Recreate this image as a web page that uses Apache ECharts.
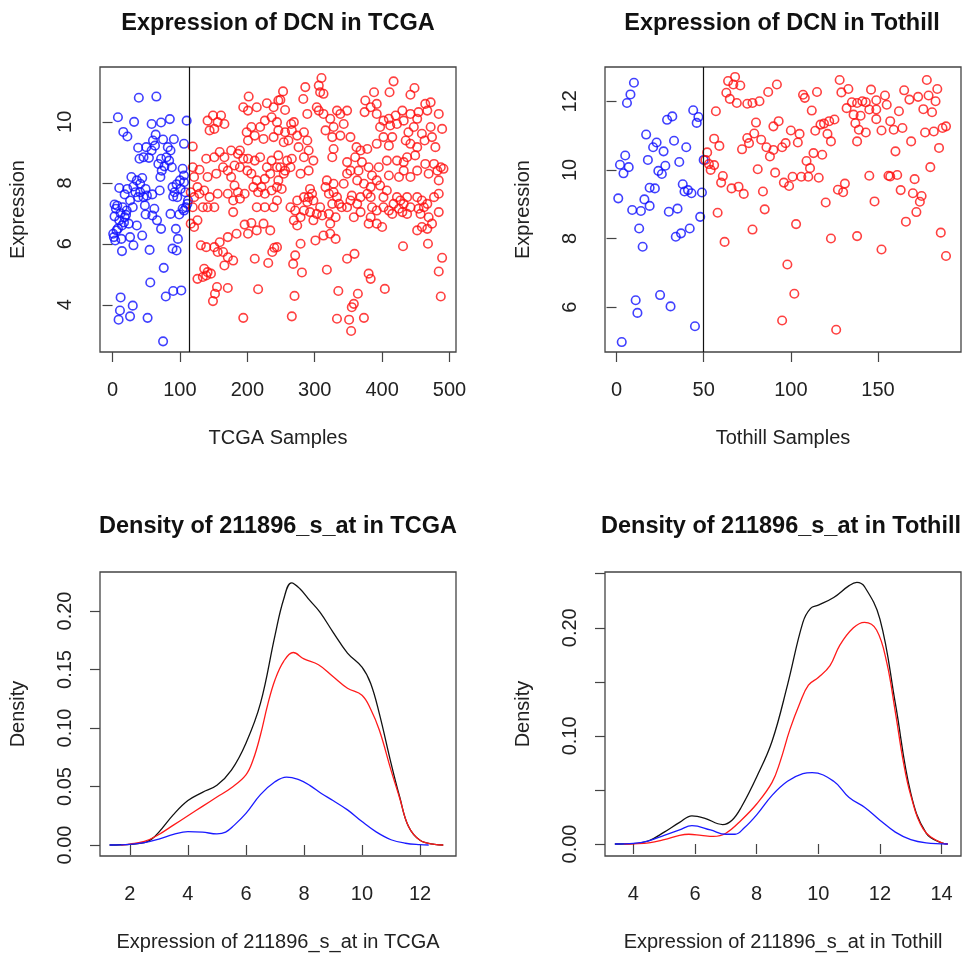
<!DOCTYPE html>
<html>
<head>
<meta charset="utf-8">
<script src="https://cdn.jsdelivr.net/npm/echarts@6/dist/echarts.min.js"></script>
<style>html,body{margin:0;padding:0;background:#fff}#main{width:968px;height:957px}</style>
</head>
<body>
<div id="main"></div>
<script>
// sample index where the blue group ends
var tcgaSplit = 114;
var tothillSplit = 50;

// [sample, expression]
var tcgaBlue = [[39,10.79],[65,10.83],[8,10.15],[32,10.0],[58,9.93],[72,9.98],[85,10.09],[110,10.04],[16,9.67],[22,9.52],[64,9.58],[60,9.39],[75,9.42],[91,9.43],[106,9.28],[38,9.15],[50,9.17],[46,8.84],[40,8.79],[58,9.06],[63,9.22],[54,8.82],[72,8.79],[84,8.73],[86,9.06],[82,9.17],[68,8.62],[77,8.54],[73,8.40],[80,8.84],[88,8.51],[71,8.19],[104,8.46],[106,8.24],[100,8.08],[28,8.19],[36,8.08],[44,8.16],[41,7.97],[10,7.83],[18,7.62],[22,7.80],[31,7.88],[34,7.69],[41,7.69],[49,7.80],[51,7.58],[46,7.53],[38,7.53],[59,7.62],[70,7.75],[26,7.42],[89,7.86],[92,7.69],[95,7.95],[101,7.80],[106,8.02],[96,7.53],[90,7.55],[3,7.29],[5,7.15],[15,7.20],[21,7.09],[30,7.20],[48,7.26],[62,7.15],[18,6.87],[10,6.77],[14,6.60],[24,6.66],[6,6.44],[1,6.33],[2,6.22],[4,6.11],[13,6.16],[26,6.22],[36,6.60],[44,6.27],[31,5.95],[14,5.76],[55,5.80],[49,6.96],[59,6.93],[66,6.77],[72,6.49],[86,6.98],[99,6.96],[104,7.15],[109,7.20],[111,7.31],[94,6.49],[97,6.16],[89,5.84],[95,5.78],[76,5.21],[56,4.73],[79,4.27],[90,4.45],[102,4.47],[12,4.24],[30,3.97],[11,3.81],[26,3.62],[9,3.51],[52,3.57],[75,2.80],[108,7.69],[112,7.42],[106,7.09],[7,7.25],[3,6.9],[8,6.5],[17,6.7],[20,6.95],[12,7.0]];

var tcgaRed = [[202,10.83],[194,10.48],[201,10.37],[214,10.48],[229,10.61],[239,10.48],[246,10.70],[141,10.04],[149,10.21],[161,10.21],[166,9.93],[156,9.99],[144,9.72],[151,9.77],[199,9.66],[206,9.83],[219,9.83],[226,10.04],[236,10.15],[244,9.99],[211,9.55],[224,9.44],[239,9.50],[246,9.72],[201,9.39],[119,9.19],[139,8.79],[151,8.84],[159,9.01],[166,8.84],[176,9.06],[186,8.95],[194,8.79],[201,8.79],[189,9.06],[211,8.73],[219,8.84],[229,8.51],[236,8.73],[246,8.90],[119,8.51],[129,8.43],[121,8.19],[126,7.86],[141,8.19],[154,8.30],[164,8.51],[171,8.40],[176,8.19],[181,8.57],[189,8.51],[200,8.40],[206,8.30],[214,8.08],[226,8.13],[234,8.30],[244,8.51],[116,7.69],[121,7.53],[119,7.20],[129,7.64],[136,7.75],[144,7.53],[134,7.20],[141,7.20],[151,7.20],[156,7.64],[171,7.64],[181,7.91],[186,7.69],[179,7.42],[189,7.48],[196,7.64],[209,7.86],[216,7.69],[221,7.86],[226,7.64],[236,7.75],[244,7.86],[214,7.20],[226,7.20],[239,7.20],[179,7.04],[116,6.66],[121,6.55],[126,6.77],[196,6.63],[206,6.68],[214,6.44],[224,6.66],[234,6.44],[201,6.33],[184,6.33],[171,6.22],[131,5.95],[139,5.89],[151,5.89],[159,6.05],[164,5.73],[156,5.73],[171,5.56],[179,5.45],[211,5.51],[231,5.37],[240,5.87],[244,5.89],[136,5.18],[141,5.07],[134,4.91],[126,4.85],[146,5.02],[139,4.96],[166,5.29],[155,4.58],[171,4.55],[152,4.36],[149,4.12],[216,4.51],[194,3.57],
[310,11.44],[417,11.33],[411,10.97],[448,11.11],[442,10.89],[253,11.0],[249,10.72],[286,11.14],[283,10.75],[306,11.19],[308,10.97],[313,10.92],[375,10.70],[388,10.97],[383,10.48],[392,10.59],[256,10.39],[265,9.93],[269,9.99],[266,9.72],[303,10.48],[306,10.37],[313,10.26],[289,10.26],[333,10.37],[338,10.26],[348,10.37],[323,10.10],[328,9.83],[343,9.93],[338,9.55],[353,9.50],[326,9.50],[316,9.72],[328,9.11],[374,10.32],[392,10.26],[402,10.04],[397,9.83],[410,10.10],[420,10.21],[430,10.37],[432,10.04],[422,9.93],[412,9.88],[402,9.50],[415,9.50],[410,9.22],[392,9.28],[442,10.26],[454,10.32],[467,10.37],[472,10.64],[464,10.59],[484,10.26],[489,9.77],[472,9.83],[474,9.50],[479,9.17],[452,10.10],[447,9.83],[459,9.61],[439,9.66],[435,9.39],[452,9.17],[463,9.39],[442,9.28],[256,9.66],[274,9.55],[284,9.66],[289,9.39],[276,9.17],[291,9.06],[261,9.39],[254,9.33],[259,8.73],[266,8.79],[284,8.84],[298,8.73],[326,8.84],[362,9.17],[368,9.06],[378,9.11],[360,8.84],[370,8.68],[380,8.51],[365,8.40],[348,8.68],[353,8.40],[348,8.30],[385,8.24],[395,8.51],[407,8.73],[422,8.73],[432,8.68],[437,8.84],[449,8.90],[452,8.40],[464,8.62],[477,8.62],[487,8.51],[491,8.46],[482,8.40],[469,8.30],[484,8.08],[432,8.40],[442,8.19],[425,8.19],[410,8.24],[249,8.51],[256,8.40],[264,8.51],[254,8.30],[246,8.08],[251,7.80],[244,7.42],[279,8.30],[291,8.40],[318,8.08],[328,7.97],[343,7.97],[363,8.08],[373,7.97],[383,7.86],[392,8.08],[397,7.91],[407,7.75],[402,7.53],[378,7.64],[368,7.53],[383,7.53],[355,7.58],[353,7.42],[363,7.31],[336,7.31],[340,7.20],[326,7.31],[321,7.64],[316,7.86],[328,7.69],[333,7.53],[293,7.80],[296,7.64],[291,7.53],[289,7.37],[298,7.42],[284,7.53],[274,7.42],[264,7.20],[271,7.09],[284,7.09],[279,6.87],[293,7.04],[303,6.98],[311,6.93],[321,6.98],[331,6.87],[298,6.77],[308,7.20],[323,6.66],[274,6.60],[269,6.77],[422,7.53],[427,7.42],[432,7.31],[417,7.31],[425,7.15],[430,7.04],[437,7.53],[442,7.20],[452,7.53],[459,7.42],[462,7.20],[454,7.15],[467,7.31],[477,7.53],[484,7.64],[484,7.04],[469,6.87],[457,6.98],[474,6.66],[459,6.55],[452,6.44],[467,6.49],[437,6.98],[415,6.98],[410,7.09],[402,7.20],[392,7.09],[383,6.87],[380,6.66],[368,7.04],[358,6.87],[400,6.55],[392,6.66],[385,7.20],[348,7.20],[237,5.73],[301,6.11],[313,6.27],[323,6.33],[331,6.16],[279,6.0],[271,5.62],[268,5.34],[281,5.06],[318,5.15],[348,5.51],[359,5.67],[380,5.02],[383,4.85],[404,4.52],[431,5.92],[468,6.0],[489,5.54],[484,5.09],[487,4.27],[335,4.45],[270,4.29],[364,4.36],[358,4.03],[355,3.92],[266,3.62],[333,3.54],[351,3.51],[373,3.57],[354,3.14]];

var tothillBlue = [[10,12.54],[8,12.2],[6,11.95],[44,11.74],[47,11.54],[46,11.37],[29,11.46],[32,11.56],[17,11.03],[33,10.85],[40,10.66],[23,10.8],[21,10.66],[27,10.54],[5,10.42],[2,10.15],[7,10.08],[4,9.9],[18,10.29],[36,10.23],[28,10.12],[24,9.97],[26,9.88],[50,10.29],[1,9.17],[9,8.83],[14,8.8],[16,9.14],[19,8.95],[19,9.48],[22,9.46],[38,9.58],[39,9.37],[41,9.41],[43,9.32],[49,9.34],[30,8.78],[35,8.87],[48,8.63],[13,8.29],[15,7.76],[34,8.05],[37,8.15],[42,8.29],[11,6.2],[12,5.83],[25,6.35],[31,6.02],[45,5.44],[3,4.98]];

var tothillRed = [[64,12.59],[68,12.71],[67,12.49],[71,12.46],[63,12.25],[65,12.07],[69,11.95],[75,11.93],[78,11.95],[82,12.0],[87,12.27],[57,11.71],[80,11.38],[75,10.93],[79,11.06],[83,10.88],[86,10.66],[88,10.39],[72,10.60],[76,10.78],[56,10.91],[59,10.70],[52,10.51],[51,10.29],[53,10.17],[56,10.14],[54,10.0],[81,10.02],[61,9.82],[60,9.63],[66,9.46],[70,9.51],[73,9.30],[84,9.37],[85,8.85],[58,8.75],[78,8.26],[62,7.90],
[92,12.49],[93,11.42],[90,11.27],[100,11.15],[105,11.05],[104,10.80],[97,10.78],[95,10.66],[90,10.58],[91,9.92],[96,9.63],[99,9.53],[101,9.80],[106,9.80],[110,9.80],[116,9.77],[109,10.26],[111,10.05],[113,10.49],[118,10.44],[107,12.19],[108,12.10],[115,12.27],[112,11.73],[114,11.14],[117,11.32],[119,11.35],[122,11.42],[125,11.47],[121,11.05],[123,10.83],[128,12.62],[129,12.26],[133,12.36],[132,11.80],[135,11.97],[138,11.95],[141,12.0],[143,11.97],[145,11.76],[136,11.61],[140,11.58],[137,11.36],[139,11.17],[143,11.09],[138,10.83],[146,12.34],[149,12.03],[154,12.17],[155,11.90],[149,11.76],[149,11.48],[152,11.15],[157,11.42],[159,11.17],[164,11.22],[162,11.71],[165,12.32],[168,12.05],[173,12.13],[176,11.77],[178,12.62],[179,12.17],[184,12.36],[183,12.0],[181,11.68],[177,11.09],[182,11.12],[187,11.22],[189,11.27],[169,10.83],[185,10.64],[160,10.54],[180,10.08],[145,9.83],[156,9.83],[157,9.81],[161,9.85],[171,9.73],[163,9.41],[170,9.32],[175,9.24],[174,9.07],[172,8.77],[166,8.49],[148,9.08],[131,9.60],[130,9.35],[127,9.42],[120,9.05],[103,8.42],[123,8.0],[138,8.07],[152,7.68],[186,8.17],[189,7.49],[98,7.24],[102,6.39],[95,5.61],[126,5.34]];

// [expression, density]
var tcgaDensAll = [[1.3,0],[1.7,0.0002],[2,0.0005],[2.5,0.002],[2.75,0.005],[3,0.011],[3.5,0.026],[4,0.038],[4.5,0.045],[5,0.051],[5.5,0.064],[6,0.087],[6.5,0.121],[7,0.179],[7.3,0.21],[7.57,0.224],[7.86,0.219],[8.2,0.209],[8.55,0.199],[9,0.182],[9.5,0.164],[10,0.152],[10.3,0.138],[10.6,0.112],[11,0.07],[11.3,0.041],[11.6,0.016],[12,0.004],[12.5,0.0005],[12.8,0]];
var tcgaDensRed = [[1.7,0],[2,0.0008],[2.5,0.003],[3,0.009],[3.5,0.017],[4,0.025],[4.5,0.033],[5,0.041],[5.5,0.049],[6,0.060],[6.25,0.073],[6.5,0.094],[6.75,0.12],[7,0.141],[7.3,0.157],[7.63,0.1645],[8,0.159],[8.5,0.154],[9,0.144],[9.5,0.134],[10,0.128],[10.3,0.116],[10.6,0.098],[11,0.064],[11.3,0.040],[11.6,0.016],[12,0.004],[12.5,0.0005],[12.8,0]];
var tcgaDensBlue = [[1.3,0],[2,0.0005],[2.5,0.002],[3,0.005],[3.5,0.009],[4,0.0115],[4.5,0.011],[5,0.0095],[5.3,0.011],[5.6,0.017],[6,0.027],[6.5,0.043],[7,0.054],[7.4,0.058],[7.8,0.056],[8.2,0.051],[8.6,0.044],[9,0.038],[9.5,0.030],[10,0.020],[10.5,0.011],[11,0.0045],[11.5,0.0015],[12,0.0003],[12.3,0]];

var tothDensAll = [[3.4,0],[4,0.0004],[4.5,0.003],[5,0.011],[5.5,0.020],[5.9,0.026],[6.3,0.024],[6.9,0.018],[7.2,0.022],[7.5,0.034],[8,0.062],[8.5,0.095],[9,0.147],[9.5,0.205],[9.75,0.218],[10,0.221],[10.5,0.228],[11,0.239],[11.25,0.242],[11.5,0.238],[12,0.208],[12.5,0.130],[13,0.047],[13.5,0.010],[14,0.001],[14.2,0]];
var tothDensRed = [[3.7,0],[4,0.0002],[4.5,0.001],[5,0.004],[5.5,0.008],[5.8,0.009],[6.2,0.008],[6.6,0.007],[7,0.010],[7.5,0.022],[8,0.037],[8.5,0.057],[8.76,0.076],[9.08,0.106],[9.41,0.131],[9.68,0.147],[10,0.154],[10.38,0.165],[10.7,0.184],[11.14,0.2],[11.5,0.205],[11.89,0.198],[12.22,0.168],[12.5,0.122],[12.76,0.076],[13,0.045],[13.4,0.014],[14,0.001],[14.2,0]];
var tothDensBlue = [[3.4,0],[4,0.0005],[4.5,0.003],[5,0.008],[5.5,0.013],[5.9,0.017],[6.5,0.013],[7,0.009],[7.3,0.009],[7.6,0.015],[8,0.027],[8.5,0.045],[9,0.058],[9.5,0.065],[9.8,0.066],[10.5,0.058],[11,0.043],[11.5,0.034],[12,0.022],[12.5,0.011],[13,0.004],[13.5,0.001],[14.2,0]];

// tick positions
var tcgaXTicks = [0, 100, 200, 300, 400, 500];
var tcgaYTicks = [4, 6, 8, 10];
var tothXTicks = [0, 50, 100, 150];
var tothYTicks = [6, 8, 10, 12];
var densTcgaXTicks = [2, 4, 6, 8, 10, 12];
var densTcgaYTicks = [0, 0.05, 0.10, 0.15, 0.20];
var densTothXTicks = [4, 6, 8, 10, 12, 14];
var densTothYTicks = [0, 0.05, 0.10, 0.15, 0.20, 0.25];
var densTothYLabels = [0, 0.10, 0.20];

var FONT = '"Liberation Sans", Arial, Helvetica, sans-serif';
var TXT = '#222';

function axis(grid, min, max, ticks, labels, name, isY, fmt) {
    return {
        type: 'value', gridIndex: grid, min: min, max: max,
        name: name, nameLocation: 'middle', nameGap: isY ? 72 : 76,
        nameTextStyle: {fontFamily: FONT, fontSize: 20, color: TXT},
        axisLine: {show: false},
        axisTick: {show: true, length: 10, customValues: ticks, lineStyle: {color: '#444', width: 1.2}},
        axisLabel: {
            customValues: labels, margin: isY ? 25 : 28, rotate: isY ? 90 : 0,
            fontFamily: FONT, fontSize: 20, color: TXT,
            formatter: fmt || function (v) { return String(v); }
        },
        splitLine: {show: false}
    };
}
function dens(v) { return v.toFixed(2); }

function pts(data, color, xi, line) {
    var s = {
        type: 'scatter', xAxisIndex: xi, yAxisIndex: xi, data: data,
        symbol: 'circle', symbolSize: 8.5,
        itemStyle: {color: 'transparent', borderColor: color, borderWidth: 1.6},
        emphasis: {disabled: true}
    };
    if (line !== undefined) {
        s.markLine = {
            silent: true, symbol: 'none', label: {show: false},
            lineStyle: {color: '#111', type: 'solid', width: 1.2},
            data: [{xAxis: line}]
        };
    }
    return s;
}
function curve(data, color, xi) {
    return {
        type: 'line', xAxisIndex: xi, yAxisIndex: xi, data: data,
        smooth: 0.4, showSymbol: false, symbol: 'none',
        lineStyle: {color: color, width: 1.3},
        emphasis: {disabled: true}
    };
}

var gridStyle = {show: true, borderColor: '#444', borderWidth: 1.3, backgroundColor: 'transparent'};
function titleAt(text, x, y) {
    return {text: text, left: x, top: y, textAlign: 'center', padding: 0,
        textStyle: {fontFamily: FONT, fontSize: 23.5, fontWeight: 'bold', color: '#111'}};
}

var myChart = echarts.init(document.getElementById('main'));
var option = {
    animation: false,
    title: [
        titleAt('Expression of DCN in TCGA', 278, 12),
        titleAt('Expression of DCN in Tothill', 782, 12),
        titleAt('Density of 211896_s_at in TCGA', 278, 515),
        titleAt('Density of 211896_s_at in Tothill', 781, 515)
    ],
    grid: [
        Object.assign({left: 100, top: 67, width: 356, height: 285}, gridStyle),
        Object.assign({left: 605, top: 67, width: 356, height: 285}, gridStyle),
        Object.assign({left: 100, top: 572, width: 356, height: 284}, gridStyle),
        Object.assign({left: 605, top: 572, width: 356, height: 284}, gridStyle)
    ],
    xAxis: [
        axis(0, -18.6, 509.6, tcgaXTicks, tcgaXTicks, 'TCGA Samples', false),
        axis(1, -6.6, 197.6, tothXTicks, tothXTicks, 'Tothill Samples', false),
        axis(2, 0.97, 13.24, densTcgaXTicks, densTcgaXTicks, 'Expression of 211896_s_at in TCGA', false),
        axis(3, 3.08, 14.63, densTothXTicks, densTothXTicks, 'Expression of 211896_s_at in Tothill', false)
    ],
    yAxis: [
        axis(0, 2.45, 11.8, tcgaYTicks, tcgaYTicks, 'Expression', true),
        axis(1, 4.69, 13.0, tothYTicks, tothYTicks, 'Expression', true),
        axis(2, -0.0094, 0.2333, densTcgaYTicks, densTcgaYTicks, 'Density', true, dens),
        axis(3, -0.0111, 0.2516, densTothYTicks, densTothYLabels, 'Density', true, dens)
    ],
    series: [
        pts(tcgaBlue, '#1010ff', 0),
        pts(tcgaRed, '#ff1010', 0, tcgaSplit),
        pts(tothillBlue, '#1010ff', 1),
        pts(tothillRed, '#ff1010', 1, tothillSplit),
        curve(tcgaDensAll, '#111111', 2),
        curve(tcgaDensRed, '#ff1a1a', 2),
        curve(tcgaDensBlue, '#1a1aff', 2),
        curve(tothDensAll, '#111111', 3),
        curve(tothDensRed, '#ff1a1a', 3),
        curve(tothDensBlue, '#1a1aff', 3)
    ]
};
myChart.setOption(option);
window.onresize = myChart.resize;
</script>
</body>
</html>
